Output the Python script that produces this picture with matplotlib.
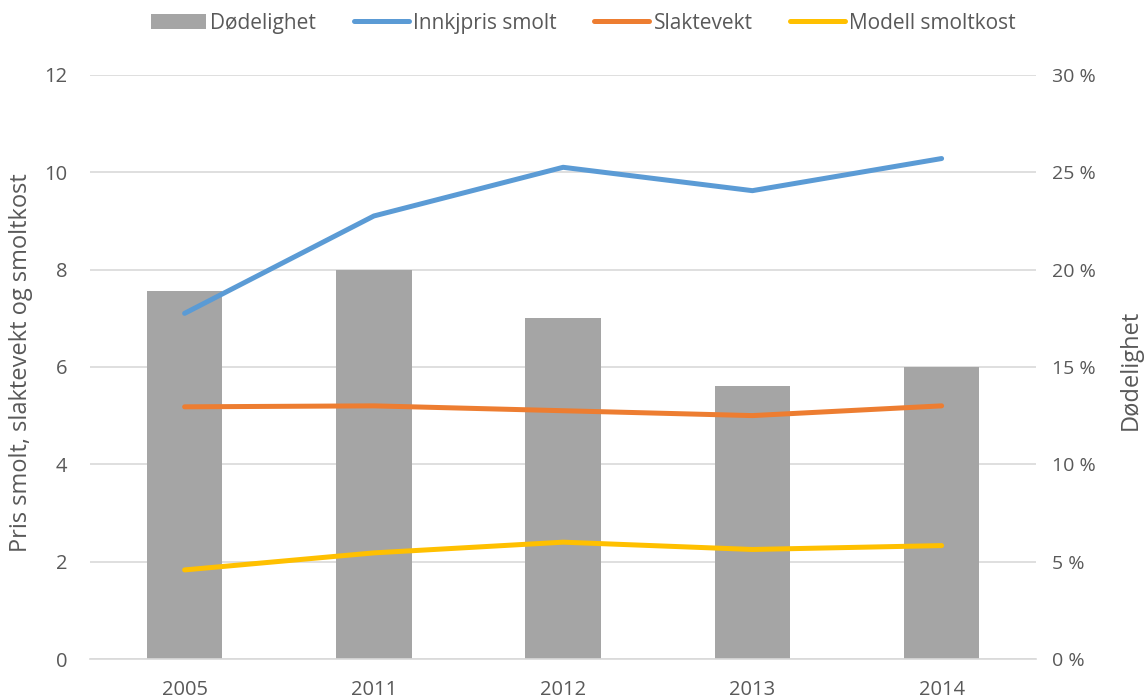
import matplotlib
matplotlib.use("Agg")
import matplotlib.pyplot as plt
from matplotlib.ticker import FuncFormatter
import numpy as np

years = ["2005", "2011", "2012", "2013", "2014"]
dodelighet = [0.189, 0.200, 0.175, 0.140, 0.150]
innkjopspris = [7.1, 9.1, 10.1, 9.62, 10.28]
slaktevekt = [5.18, 5.2, 5.1, 5.0, 5.2]
modell_smoltkost = [1.83, 2.18, 2.4, 2.25, 2.33]

plt.rcParams['font.family'] = ['Open Sans', 'DejaVu Sans']
txt = '#595959'
grid_c = '#D9D9D9'

fig = plt.figure(figsize=(11.45, 6.99), dpi=100)
ax = fig.add_axes([0.0786, 0.0572, 0.8264, 0.8358])
ax2 = ax.twinx()
ax.set_zorder(2)
ax2.set_zorder(1)
ax.patch.set_visible(False)

x = np.arange(len(years))
bars = ax2.bar(x, dodelighet, width=0.4, color='#A5A5A5', label='Dødelighet', zorder=2)
ax2.set_ylim(0, 0.30)
ax2.set_yticks(np.arange(0, 0.301, 0.05))
ax2.yaxis.set_major_formatter(FuncFormatter(lambda v, p: f"{round(v*100)} %"))
ax2.grid(axis='y', color=grid_c, linewidth=1.2, zorder=0)
ax2.set_axisbelow(True)

l1, = ax.plot(x, innkjopspris, color='#5B9BD5', lw=3.6, solid_capstyle='round', label='Innkjpris smolt')
l2, = ax.plot(x, slaktevekt, color='#ED7D31', lw=3.6, solid_capstyle='round', label='Slaktevekt')
l3, = ax.plot(x, modell_smoltkost, color='#FFC000', lw=3.6, solid_capstyle='round', label='Modell smoltkost')
ax.set_ylim(0, 12)
ax.set_yticks(range(0, 13, 2))
ax.set_xlim(-0.5, len(years) - 0.5)
ax.set_xticks(x)
ax.set_xticklabels(years)

for a in (ax, ax2):
    for s in a.spines.values():
        s.set_visible(False)
    a.tick_params(length=0, colors=txt)
ax2.spines['bottom'].set_visible(True)
ax2.spines['bottom'].set_color(grid_c)
ax2.spines['bottom'].set_linewidth(1.2)
ax.tick_params(axis='x', pad=15, labelsize=14.5)
ax.tick_params(axis='y', pad=16.5, labelsize=14.5)
ax2.tick_params(axis='y', pad=11, labelsize=14)

ax.set_ylabel('Pris smolt, slaktevekt og smoltkost', color=txt, fontsize=17, va='center')
ax.yaxis.set_label_coords(-0.073, 0.508)
ax2.set_ylabel('Dødelighet', color=txt, fontsize=17, va='center')
ax2.yaxis.set_label_coords(1.100, 0.495)

fig.legend([bars, l1, l2, l3], ['Dødelighet', 'Innkjpris smolt', 'Slaktevekt', 'Modell smoltkost'],
           loc='center', bbox_to_anchor=(0.5096, 0.967), ncol=4, frameon=False,
           fontsize=15, labelcolor=txt, handlelength=2.65, handletextpad=0.2, columnspacing=1.8)

fig.savefig('out.png', dpi=100)
